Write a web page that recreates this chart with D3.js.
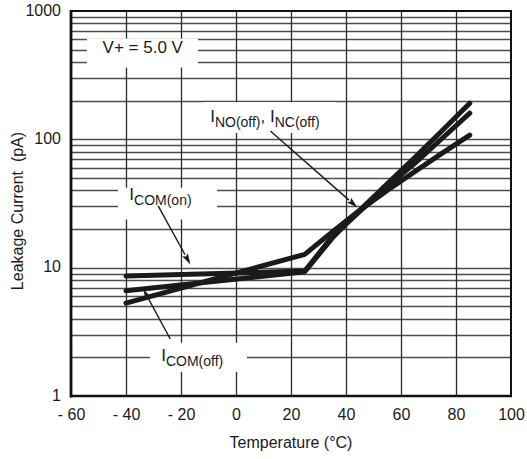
<!DOCTYPE html>
<html>
<head>
<meta charset="utf-8">
<script src="https://cdn.jsdelivr.net/npm/d3@7"></script>
<style>
  html, body { margin: 0; padding: 0; background: #fff; }
  svg text { font-family: "Liberation Sans", Arial, Helvetica, sans-serif; fill: #1a1a1a; }
</style>
</head>
<body>
<svg id="chart" width="527" height="459"></svg>
<script>
// Leakage current vs temperature, V+ = 5.0 V
const temps = [-40, 25, 35, 45, 55, 65, 75, 85];
const seriesComOn  = [8.6, 9.4, 17.5, 27.5, 43, 65, 102, 160];   // I_COM(on)
const seriesComOff = [6.6, 9.3, 17, 28, 45, 72, 117, 191];       // I_COM(off)
const seriesNoNc   = [5.3, 12.7, 19, 28, 40, 56, 78, 108];       // I_NO(off), I_NC(off)

const xTicks = [-60, -40, -20, 0, 20, 40, 60, 80, 100];
const yTicks = [1, 10, 100, 1000];
const xLabels = ["- 60", "- 40", "- 20", "0", "20", "40", "60", "80", "100"];

const svg = d3.select("#chart");
const plotLeft = 71, plotRight = 511, plotTop = 11, plotBottom = 396;

const x = d3.scaleLinear().domain([-60, 100]).range([plotLeft, plotRight]);
const y = d3.scaleLog().domain([1, 1000]).range([plotBottom, plotTop]);

// Grid: minor decades horizontally, every 20 °C vertically
const hGrid = [];
for (let d = 1; d <= 100; d *= 10) for (let m = 2; m <= 9; m++) hGrid.push(m * d);
hGrid.push(10, 100);

const grid = svg.append("g");
grid.selectAll("line.h").data(hGrid).join("line")
  .attr("x1", plotLeft).attr("x2", plotRight)
  .attr("y1", d => Math.round(y(d)) + 0.5).attr("y2", d => Math.round(y(d)) + 0.5)
  .attr("stroke", "#4d4d4d").attr("stroke-width", 1.3);
grid.selectAll("line.v").data([-40, -20, 0, 20, 40, 60, 80]).join("line")
  .attr("y1", plotTop).attr("y2", plotBottom)
  .attr("x1", d => Math.round(x(d)) + 0.5).attr("x2", d => Math.round(x(d)) + 0.5)
  .attr("stroke", "#2a2a2a").attr("stroke-width", 1.3);

// White boxes behind the annotation labels
const boxes = [
  { t0: -54.2, t1: -13.8, v0: 610, v1: 362 },   // V+ label
  { t0: -42.9, t1: -6.9,  v0: 42, v1: 23.7 },   // I_COM(on)
  { t0: -31.3, t1: 4.0,   v0: 2.6, v1: 1.54 },  // I_COM(off)
  { t0: -11.9, t1: 36.4,  v0: 195, v1: 112 }    // I_NO / I_NC
];
svg.append("g").selectAll("rect").data(boxes).join("rect")
  .attr("x", d => x(d.t0)).attr("width", d => x(d.t1) - x(d.t0))
  .attr("y", d => y(d.v0)).attr("height", d => y(d.v1) - y(d.v0))
  .attr("fill", "#fff");

// Frame
svg.append("line").attr("x1", plotLeft).attr("x2", plotLeft).attr("y1", plotTop - 1).attr("y2", plotBottom + 1.5)
  .attr("stroke", "#111").attr("stroke-width", 2.8);
svg.append("line").attr("x1", plotLeft - 1).attr("x2", plotRight + 1).attr("y1", plotBottom).attr("y2", plotBottom)
  .attr("stroke", "#111").attr("stroke-width", 2.6);
svg.append("line").attr("x1", plotLeft).attr("x2", plotRight + 1).attr("y1", plotTop).attr("y2", plotTop)
  .attr("stroke", "#111").attr("stroke-width", 2);
svg.append("line").attr("x1", plotRight).attr("x2", plotRight).attr("y1", plotTop).attr("y2", plotBottom)
  .attr("stroke", "#111").attr("stroke-width", 2);

// Axes (labels only)
const xAxis = svg.append("g").attr("transform", `translate(0,${plotBottom})`)
  .call(d3.axisBottom(x).tickValues(xTicks).tickSize(0).tickPadding(13)
    .tickFormat((d, i) => xLabels[i]));
const yAxis = svg.append("g").attr("transform", `translate(${plotLeft},0)`)
  .call(d3.axisLeft(y).tickValues(yTicks).tickSize(0).tickPadding(10)
    .tickFormat(d3.format("d")));
[xAxis, yAxis].forEach(a => {
  a.select(".domain").remove();
  a.selectAll("text").attr("font-size", 16).attr("fill", "#1a1a1a")
    .attr("font-family", "Liberation Sans, Arial, sans-serif");
});
yAxis.selectAll("text").attr("dy", "0.25em");

svg.append("text").attr("x", (plotLeft + plotRight) / 2).attr("y", 448)
  .attr("text-anchor", "middle").attr("font-size", 16).text("Temperature (°C)");
svg.append("text").attr("transform", `translate(23,211) rotate(-90)`)
  .attr("text-anchor", "middle").attr("font-size", 16)
  .attr("xml:space", "preserve").text("Leakage Current  (pA)");

// Data curves
const line = d3.line().x((d, i) => x(temps[i])).y(d => y(d));
svg.append("g").selectAll("path").data([seriesComOn, seriesComOff, seriesNoNc]).join("path")
  .attr("d", line).attr("fill", "none").attr("stroke", "#1a1a1a")
  .attr("stroke-width", 5).attr("stroke-linecap", "round").attr("stroke-linejoin", "round");

// Annotation arrows (data coordinates)
const arrows = [
  { from: [-28.3, 30.3], to: [-16.6, 10.6] },
  { from: [-23.9, 2.78], to: [-33.7, 6.8] },
  { from: [12.5, 116], to: [44.1, 29.5] }
];
const ag = svg.append("g");
arrows.forEach(a => {
  const x0 = x(a.from[0]), y0 = y(a.from[1]), x1 = x(a.to[0]), y1 = y(a.to[1]);
  const ang = Math.atan2(y1 - y0, x1 - x0);
  const L = 11, W = 3.2;
  const bx = x1 - L * Math.cos(ang), by = y1 - L * Math.sin(ang);
  ag.append("line").attr("x1", x0).attr("y1", y0).attr("x2", bx).attr("y2", by)
    .attr("stroke", "#1a1a1a").attr("stroke-width", 1.4);
  const px = -Math.sin(ang), py = Math.cos(ang);
  ag.append("path")
    .attr("d", `M${x1},${y1}L${bx + W * px},${by + W * py}L${bx + 2 * Math.cos(ang)},${by + 2 * Math.sin(ang)}L${bx - W * px},${by - W * py}Z`)
    .attr("fill", "#1a1a1a");
});

// Labels
svg.append("text").attr("x", x(-33.9)).attr("y", y(470)).attr("text-anchor", "middle")
  .attr("font-size", 17).attr("xml:space", "preserve").text("V+ = 5.0 V");

function subLabel(parts, t, v) {
  const txt = svg.append("text").attr("x", x(t)).attr("y", y(v)).attr("font-size", 17)
    .attr("xml:space", "preserve");
  parts.forEach(p => {
    txt.append("tspan").attr("font-size", p.sub ? 14 : 17)
      .attr("dy", p.sub ? 5 : (p.back ? -5 : 0)).text(p.text);
  });
}
subLabel([{ text: "I" }, { text: "COM(on)", sub: true }], -38.8, 33.5);
subLabel([{ text: "I" }, { text: "COM(off)", sub: true }], -27.2, 1.86);
subLabel([{ text: "I" }, { text: "NO(off)", sub: true }, { text: ", I", back: true }, { text: "NC(off)", sub: true }], -9.4, 136);
</script>
</body>
</html>
